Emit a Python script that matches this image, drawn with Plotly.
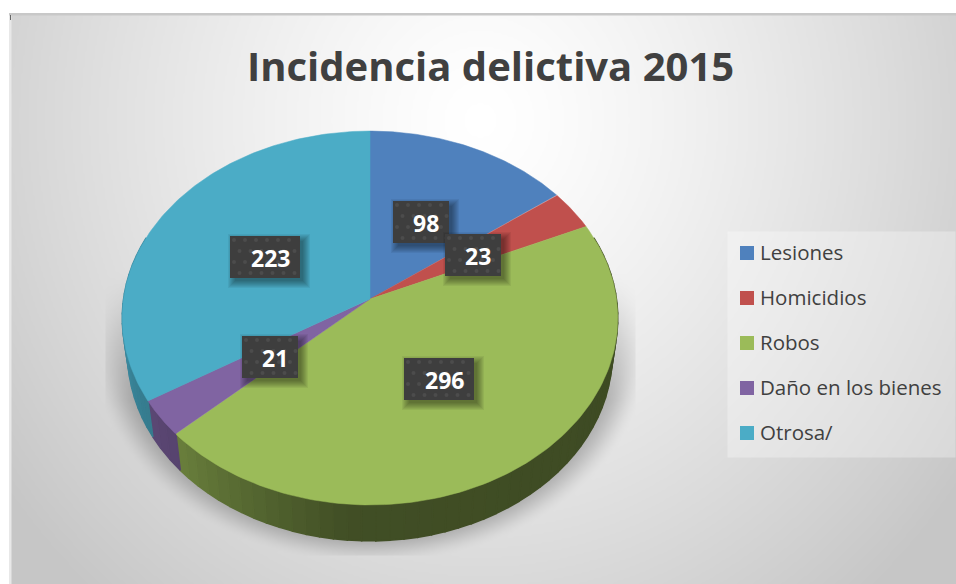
import numpy as np
import plotly.graph_objects as go

categories = ["Lesiones", "Homicidios", "Robos", "Daño en los bienes", "Otrosa/"]
values = [98, 23, 296, 21, 223]
colors = ["#4f81bd", "#c0504d", "#9bbb59", "#8064a2", "#4bacc6"]
label_boxes = [(393, 201, 56), (445, 234, 56), (404, 358, 70), (242, 336, 56), (230, 236, 70)]
legend_rows = [253, 298, 343, 388, 433]
title = "Incidencia delictiva 2015"

W, H = 956, 584
X0, Y0, A, B, K = 370, 299, 185, 246.5, 0.1016
Y0B, BB = 335, 241


def top(t):
    t = np.radians(t)
    u, v = np.sin(t), np.cos(t)
    d = 1 + K * v
    return X0 + B * u / d, Y0 - A * v / d


def bot(t):
    t = np.radians(t)
    u, v = np.sin(t), np.cos(t)
    d = 1 + K * v
    return X0 + BB * u / d, Y0B - A * v / d


def shade(col, m):
    r, g, b = int(col[1:3], 16), int(col[3:5], 16), int(col[5:7], 16)
    return f"rgb({int(r*m)},{int(g*m)},{int(b*m)})"


def mult(t):
    return float(np.interp(t, [100, 185, 227, 265], [0.40, 0.42, 0.68, 0.80]))


def rect_trace(x0, y0, x1, y1, color):
    return go.Scatter(x=[x0, x1, x1, x0, x0], y=[y0, y0, y1, y1, y0], mode="lines", fill="toself",
                      fillcolor=color, line_width=0, hoverinfo="skip", showlegend=False)


# background: radial grey gradient, legend panel and soft pie shadow
xs = np.arange(10, W + 1, 2)
ys = np.arange(14, H + 1, 2)
gx, gy = np.meshgrid(xs, ys)
dist = np.hypot((gx - 480) / 430, (gy - 120) / 460)
bg = np.maximum(255 - 38 * dist ** 1.3, 198)
panel = (gx >= 727) & (gx <= 954) & (gy >= 231) & (gy <= 456)
bg[panel] = bg[panel] + (255 - bg[panel]) * 0.3
r = np.hypot((gx - 370) / 262, (gy - 345) / 205)
alpha = np.clip((1.07 - r) / 0.16, 0, 1)
alpha = alpha * alpha * (3 - 2 * alpha) * 0.25 * np.clip((gy - 270) / 130, 0, 1)
alpha[(gx < 105) | (gx > 635) | (gy > 555)] = 0
bg = bg * (1 - alpha)
bg[:, 0] = 232
bg[0, :] = 200

fig = go.Figure()
fig.add_trace(go.Heatmap(x=xs, y=ys, z=np.round(bg).astype(int).tolist(), zmin=0, zmax=255,
                         colorscale=[[0, "black"], [1, "white"]], showscale=False,
                         hoverinfo="skip", zsmooth="best"))

angles = np.cumsum([0] + values) / sum(values) * 360

# side walls
for i, col in enumerate(colors):
    a0, a1 = angles[i], angles[i + 1]
    lo, hi = max(a0, 70), min(a1, 290)
    if hi <= lo:
        continue
    n = max(1, int((hi - lo) / 3))
    edges = np.linspace(lo, hi, n + 1)
    for e0, e1 in zip(edges[:-1], edges[1:]):
        t = np.linspace(e0, e1, 4)
        tx, ty = top(t)
        bx, by = bot(t)
        c = shade(col, mult((e0 + e1) / 2))
        fig.add_trace(go.Scatter(x=np.r_[tx, bx[::-1], tx[0]], y=np.r_[ty, by[::-1], ty[0]], mode="lines",
                                 fill="toself", fillcolor=c, line=dict(color=c, width=1.5),
                                 hoverinfo="skip", showlegend=False))

# top faces
for i, col in enumerate(colors):
    t = np.linspace(angles[i], angles[i + 1], 120)
    tx, ty = top(t)
    fig.add_trace(go.Scatter(x=np.r_[X0, tx, X0], y=np.r_[Y0, ty, Y0], mode="lines", fill="toself",
                             fillcolor=col, line=dict(color=col, width=0.5), name=categories[i],
                             text=f"{categories[i]}: {values[i]}", hoverinfo="text", showlegend=False))

shapes = [dict(type="rect", x0=10, x1=11, y0=15, y1=20, line_width=0, fillcolor="#666666")]

annotations = [dict(x=490, y=65, xref="x", yref="y", text=f"<b>{title}</b>", showarrow=False,
                    font=dict(family="Open Sans", size=40, color="#404040"))]

# label boxes: soft shadow, dark box, dotted texture
for (x, y, w), v in zip(label_boxes, values):
    h = 42
    for s in range(6, -2, -1):
        fig.add_trace(rect_trace(x + 4 - s, y + 4 - s, x + w + 4 + s, y + h + 4 + s, "rgba(0,0,0,0.055)"))
    fig.add_trace(rect_trace(x, y, x + w, y + h, "#3e3e3e"))
    dx, dy = [], []
    for row, yy in enumerate(np.arange(y + 4, y + h, 11)):
        for xx in np.arange(x + 4 + (row % 2) * 5.5, x + w - 1, 11):
            dx.append(xx)
            dy.append(yy)
    fig.add_trace(go.Scatter(x=dx, y=dy, mode="markers", hoverinfo="skip", showlegend=False,
                             marker=dict(size=4, color="#4c4c4c", line_width=0)))
    annotations.append(dict(x=x + w - 8, y=y + 22, xref="x", yref="y", xanchor="right", text=f"<b>{v}</b>",
                            showarrow=False, font=dict(family="Open Sans", size=23, color="white")))

# legend swatches and labels
fig.add_trace(go.Scatter(x=[747] * 5, y=legend_rows, mode="markers", hoverinfo="skip", showlegend=False,
                         marker=dict(symbol="square", size=14, color=colors, line_width=0)))
for name, y in zip(categories, legend_rows):
    annotations.append(dict(x=758, y=y - 1, xref="x", yref="y", xanchor="left", text=name, showarrow=False,
                            font=dict(family="Open Sans", size=20.5, color="#404040")))

fig.update_layout(width=W, height=H, margin=dict(l=0, r=0, t=0, b=0), paper_bgcolor="white",
                  plot_bgcolor="white", showlegend=False, shapes=shapes, annotations=annotations,
                  xaxis=dict(range=[0, W], visible=False, fixedrange=True),
                  yaxis=dict(range=[H, 0], visible=False, fixedrange=True))
fig.write_html("out.html", config=dict(displayModeBar=False),
               post_script="document.body.style.margin='0';document.body.style.overflow='hidden';")
